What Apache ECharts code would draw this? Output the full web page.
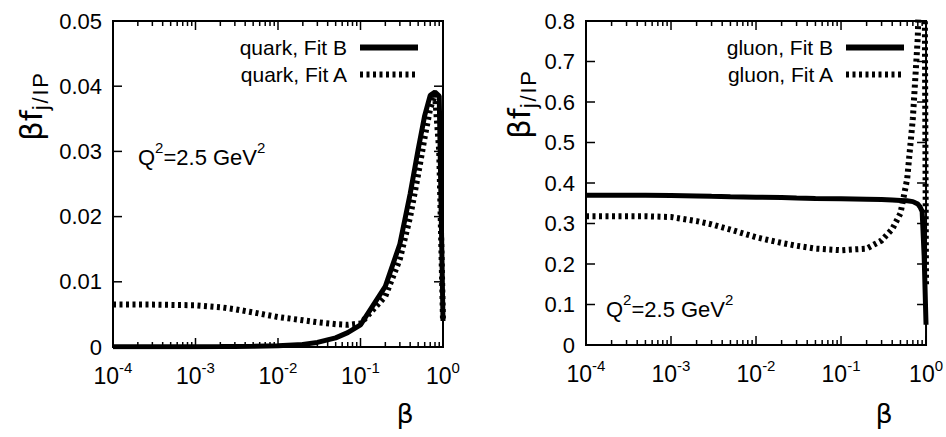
<!DOCTYPE html>
<html>
<head>
<meta charset="utf-8">
<script src="https://cdn.jsdelivr.net/npm/echarts@6/dist/echarts.min.js"></script>
<style>
html,body{margin:0;padding:0;background:#fff;}
#chart{width:946px;height:437px;}
</style>
</head>
<body>
<div id="chart"></div>
<script>
// ---- data ----
const betaQuark = [1e-4, 3e-4, 1e-3, 2e-3, 3e-3, 5e-3, 1e-2, 2e-2, 3e-2, 5e-2, 0.07, 0.1, 0.2, 0.3, 0.4, 0.5, 0.6, 0.7, 0.8, 0.9, 1.0];
const quarkFitB = [0.00005, 0.00005, 0.00005, 0.00006, 0.00008, 0.0001, 0.0002, 0.0004, 0.0007, 0.0014, 0.0022, 0.0034, 0.0093, 0.0158, 0.0235, 0.0303, 0.0355, 0.0386, 0.0391, 0.0385, 0.004];
const quarkFitA = [0.0065, 0.0065, 0.0064, 0.0061, 0.0058, 0.0053, 0.0046, 0.0041, 0.0038, 0.0035, 0.0034, 0.0036, 0.0078, 0.0135, 0.0200, 0.0265, 0.0322, 0.0366, 0.0387, 0.0300, 0.004];

const betaGluon = [1e-4, 5e-4, 1e-3, 2e-3, 3e-3, 5e-3, 1e-2, 2e-2, 3e-2, 5e-2, 0.1, 0.2, 0.3, 0.4, 0.5, 0.6, 0.7, 0.8, 0.85, 0.9, 0.95, 1.0];
const gluonFitB = [0.370, 0.370, 0.369, 0.368, 0.367, 0.366, 0.365, 0.364, 0.363, 0.362, 0.361, 0.360, 0.359, 0.358, 0.357, 0.356, 0.354, 0.348, 0.341, 0.330, 0.220, 0.050];
const gluonFitA = [0.318, 0.318, 0.316, 0.306, 0.298, 0.285, 0.266, 0.252, 0.245, 0.238, 0.234, 0.238, 0.258, 0.286, 0.325, 0.410, 0.560, 0.760, 1.000, 1.600, 1.200, 0.150];

const xTickValues = [1e-4, 1e-3, 1e-2, 1e-1, 1];
const xMinorTicks = [2e-4,3e-4,4e-4,5e-4,6e-4,7e-4,8e-4,9e-4,
                     2e-3,3e-3,4e-3,5e-3,6e-3,7e-3,8e-3,9e-3,
                     2e-2,3e-2,4e-2,5e-2,6e-2,7e-2,8e-2,9e-2,
                     0.2,0.3,0.4,0.5,0.6,0.7,0.8,0.9];
const quarkYTickValues = [0, 0.01, 0.02, 0.03, 0.04, 0.05];
const gluonYTickValues = [0, 0.1, 0.2, 0.3, 0.4, 0.5, 0.6, 0.7, 0.8];
const quarkYTicks = {min: 0, max: 0.05, interval: 0.01};
const gluonYTicks = {min: 0, max: 0.8, interval: 0.1};
const legendQuark = ['quark, Fit B', 'quark, Fit A'];
const legendGluon = ['gluon, Fit B', 'gluon, Fit A'];

// ---- build ----
const FONT = '"Liberation Sans", Arial, Helvetica, sans-serif';
const zip = (xs, ys) => xs.map((x, i) => [x, ys[i]]);

const logLabel = v => '{b|10}{s|' + Math.round(Math.log10(v)) + '}';
function xLabelRich() {
  return {
    b: {fontSize: 23, fontFamily: FONT, color: '#000', lineHeight: 27, verticalAlign: 'bottom'},
    s: {fontSize: 15, fontFamily: FONT, color: '#000', lineHeight: 15, verticalAlign: 'top'}
  };
}
function xAxis(gi) {
  return {
    gridIndex: gi, type: 'log', logBase: 10, min: xTickValues[0], max: xTickValues[xTickValues.length - 1],
    splitNumber: 4, position: 'bottom',
    axisLine: {show: true, onZero: false, lineStyle: {color: '#000', width: 2}},
    axisTick: {show: false},
    splitLine: {show: false},
    axisLabel: {show: true, margin: 13, formatter: logLabel, rich: xLabelRich()}
  };
}
function yAxis(gi, t) {
  return {
    gridIndex: gi, type: 'value', min: t.min, max: t.max, interval: t.interval, position: 'left',
    axisLine: {show: true, onZero: false, lineStyle: {color: '#000', width: 2}},
    axisTick: {show: false},
    splitLine: {show: false},
    axisLabel: {show: true, margin: 11, color: '#000', fontSize: 22, fontFamily: FONT}
  };
}

// inward tick marks, mirrored on both sides of the frame, placed through the axes' own scales
function xTickSeries(gi, values, len, ymin) {
  return {
    type: 'custom', xAxisIndex: gi, yAxisIndex: gi, silent: true, z: 10, clip: false,
    data: values.map(v => [v, ymin]),
    renderItem: (params, api) => {
      const cs = params.coordSys;
      const x = api.coord([api.value(0), ymin])[0];
      const st = {stroke: '#000', lineWidth: 1.5};
      return {type: 'group', children: [
        {type: 'line', shape: {x1: x, y1: cs.y + cs.height, x2: x, y2: cs.y + cs.height - len}, style: st},
        {type: 'line', shape: {x1: x, y1: cs.y, x2: x, y2: cs.y + len}, style: st}
      ]};
    }
  };
}
function yTickSeries(gi, values, len, xmin) {
  return {
    type: 'custom', xAxisIndex: gi, yAxisIndex: gi, silent: true, z: 10, clip: false,
    data: values.map(v => [xmin, v]),
    renderItem: (params, api) => {
      const cs = params.coordSys;
      const y = api.coord([xmin, api.value(1)])[1];
      const st = {stroke: '#000', lineWidth: 1.5};
      return {type: 'group', children: [
        {type: 'line', shape: {x1: cs.x, y1: y, x2: cs.x + len, y2: y}, style: st},
        {type: 'line', shape: {x1: cs.x + cs.width, y1: y, x2: cs.x + cs.width - len, y2: y}, style: st}
      ]};
    }
  };
}

function lineSeries(name, data, gi, dotted) {
  return {
    name: name, type: 'line', xAxisIndex: gi, yAxisIndex: gi, data: data,
    showSymbol: false, symbol: 'none', smooth: false, clip: true, z: 5,
    lineStyle: {color: '#000', width: dotted ? 6 : 5, type: dotted ? [3, 3.5] : 'solid'},
    itemStyle: {color: '#000'}
  };
}

function qRich() {
  return {
    q: {fontSize: 22, fontFamily: FONT, color: '#000', lineHeight: 28, verticalAlign: 'bottom'},
    s: {fontSize: 15, fontFamily: FONT, color: '#000', lineHeight: 15, verticalAlign: 'top'}
  };
}
function yTitleRich() {
  return {
    a: {fontSize: 31, fontFamily: '"DejaVu Sans", sans-serif', color: '#000', lineHeight: 36, verticalAlign: 'top'},
    b: {fontSize: 22, fontFamily: FONT, color: '#000', lineHeight: 22, verticalAlign: 'bottom'}
  };
}
const yTitleText = '{a|βf}{b|j\u200A/\u200AI\u200AP}';

function legend(names, right) {
  return {
    data: names, orient: 'vertical', align: 'right', right: right, top: 32,
    itemWidth: 58, itemHeight: 12, itemGap: 6,
    textStyle: {fontSize: 21, fontFamily: FONT, color: '#000', padding: [0, 8, 0, 0]},
    lineStyle: {width: 6},
    itemStyle: {opacity: 0, borderWidth: 0},
    selectedMode: false
  };
}

const option = {
  animation: false,
  backgroundColor: '#fff',
  grid: [
    {left: 113, top: 21, width: 330, height: 326, show: true, borderColor: '#000', borderWidth: 2, backgroundColor: 'transparent'},
    {left: 586, top: 21, width: 344, height: 324, show: true, borderColor: '#000', borderWidth: 2, backgroundColor: 'transparent'}
  ],
  xAxis: [xAxis(0), xAxis(1)],
  yAxis: [yAxis(0, quarkYTicks), yAxis(1, gluonYTicks)],
  legend: [legend(legendQuark, 520), legend(legendGluon, 34)],
  series: [
    lineSeries(legendQuark[0], zip(betaQuark, quarkFitB), 0, false),
    lineSeries(legendQuark[1], zip(betaQuark, quarkFitA), 0, true),
    lineSeries(legendGluon[0], zip(betaGluon, gluonFitB), 1, false),
    lineSeries(legendGluon[1], zip(betaGluon, gluonFitA), 1, true),
    xTickSeries(0, xMinorTicks, 5, quarkYTicks.min),
    xTickSeries(0, xTickValues, 9, quarkYTicks.min),
    yTickSeries(0, quarkYTickValues, 9, xTickValues[0]),
    xTickSeries(1, xMinorTicks, 5, gluonYTicks.min),
    xTickSeries(1, xTickValues, 9, gluonYTicks.min),
    yTickSeries(1, gluonYTickValues, 9, xTickValues[0])
  ],
  graphic: [
    {type: 'text', x: 138, y: 154, style: {text: '{q|Q}{s|2}{q|=2.5 GeV}{s|2}', rich: qRich(), textVerticalAlign: 'middle'}},
    {type: 'text', x: 606, y: 306, style: {text: '{q|Q}{s|2}{q|=2.5 GeV}{s|2}', rich: qRich(), textVerticalAlign: 'middle'}},
    {type: 'text', x: 33, y: 107, rotation: Math.PI / 2, style: {text: yTitleText, rich: yTitleRich(), textAlign: 'center', textVerticalAlign: 'middle'}},
    {type: 'text', x: 521, y: 105, rotation: Math.PI / 2, style: {text: yTitleText, rich: yTitleRich(), textAlign: 'center', textVerticalAlign: 'middle'}},
    {type: 'text', x: 405, y: 413, style: {text: 'β', fontSize: 27, fontFamily: '"DejaVu Sans", sans-serif', fill: '#000', textAlign: 'center', textVerticalAlign: 'middle'}},
    {type: 'text', x: 884, y: 413, style: {text: 'β', fontSize: 27, fontFamily: '"DejaVu Sans", sans-serif', fill: '#000', textAlign: 'center', textVerticalAlign: 'middle'}}
  ]
};

const chart = echarts.init(document.getElementById('chart'), null, {renderer: 'svg'});
chart.setOption(option);
</script>
</body>
</html>
